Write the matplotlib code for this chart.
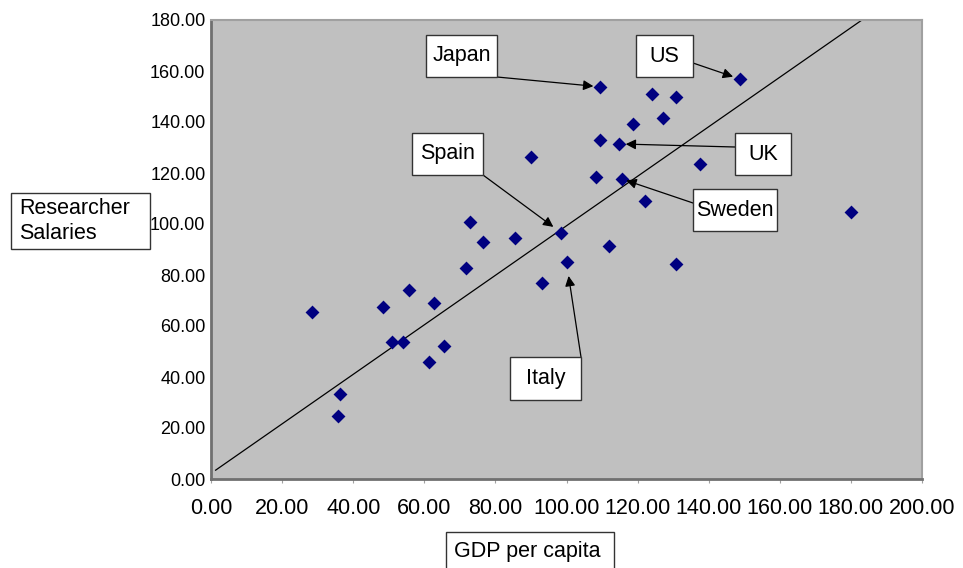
import matplotlib
matplotlib.use("Agg")
import matplotlib.pyplot as plt
from matplotlib.patches import Rectangle
from matplotlib.ticker import FormatStrFormatter, MultipleLocator

plt.rcParams["font.family"] = ["Liberation Sans", "DejaVu Sans"]

# countries called out on the chart
named = ["Japan", "US", "UK", "Sweden", "Spain", "Italy"]
named_gdp = [109.5, 148.7, 114.7, 115.7, 98.5, 100.0]
named_salary = [153.8, 156.9, 131.4, 117.6, 96.6, 85.0]

# remaining countries
other_gdp = [28.3, 48.3, 55.6, 62.8, 50.9, 54.1, 65.5, 61.3, 36.2, 35.6,
             72.9, 71.8, 76.5, 85.4, 93.2, 90.1, 109.4, 124.1, 130.9, 127.1,
             118.8, 137.6, 108.4, 122.0, 180.1, 112.0, 130.9]
other_salary = [65.4, 67.6, 74.1, 69.0, 53.7, 53.7, 52.3, 45.9, 33.5, 24.7,
                100.9, 82.9, 92.8, 94.4, 77.0, 126.4, 132.9, 151.0, 149.7, 141.6,
                139.3, 123.5, 118.4, 109.0, 104.6, 91.5, 84.2]

# straight-line fit drawn across the cloud
fit_slope = 0.971
fit_intercept = 2.2
fit_x = [1.3, 183.0]

W, H = 963, 568
fig = plt.figure(figsize=(W / 100, H / 100), dpi=100)
ax = fig.add_axes([211 / W, 1 - 479 / H, 711 / W, 459 / H])
ax.set_facecolor("#c0c0c0")

ax.scatter(other_gdp + named_gdp, other_salary + named_salary,
           marker="D", s=50, color="#000080", linewidths=0, zorder=3)
ax.plot(fit_x, [fit_slope * v + fit_intercept for v in fit_x],
        color="black", lw=0.9, zorder=2)

ax.set_xlim(0, 200)
ax.set_ylim(0, 180)
ax.xaxis.set_major_locator(MultipleLocator(20))
ax.yaxis.set_major_locator(MultipleLocator(20))
ax.xaxis.set_major_formatter(FormatStrFormatter("%.2f"))
ax.yaxis.set_major_formatter(FormatStrFormatter("%.2f"))
ax.tick_params(axis="x", length=3, color="#a0a0a0", pad=11, labelsize=15.5)
ax.tick_params(axis="y", length=0, pad=4, labelsize=13)
for side in ["top", "right"]:
    ax.spines[side].set_color("#a0a0a0")
    ax.spines[side].set_linewidth(1.5)
for side in ["left", "bottom"]:
    ax.spines[side].set_color("#707070")
    ax.spines[side].set_linewidth(2)


def fig_xy(px, py):
    return px / W, 1 - py / H


def box(px0, py0, px1, py1, text, ha="center", tx=None, ty=None):
    x0, y1 = fig_xy(px0, py0)
    x1, y0 = fig_xy(px1, py1)
    fig.add_artist(Rectangle((x0, y0), x1 - x0, y1 - y0, transform=fig.transFigure,
                             facecolor="white", edgecolor="#333333", lw=1, zorder=5))
    xt = (x0 + x1) / 2 if ha == "center" else fig_xy(tx, 0)[0]
    yt = (y0 + y1) / 2 if ty is None else fig_xy(0, ty)[1]
    fig.text(xt, yt, text, ha=ha, va="center", fontsize=15.5, zorder=6)


# callout boxes: name -> (box corners in pixels, arrow start in pixels, arrow shrink)
callouts = {
    "Japan": ((426, 35, 497, 77), (497, 77), 5),
    "US": ((636, 35, 693, 77), (693, 63), 5),
    "UK": ((735, 133, 791, 175), (735, 147), 5),
    "Sweden": ((693, 189, 777, 231), (693, 203), 3),
    "Spain": ((412, 133, 483, 175), (483, 175), 7),
    "Italy": ((510, 357, 581, 400), (581, 357), 10),
}

for name, gx, sy in zip(named, named_gdp, named_salary):
    (bx0, by0, bx1, by1), start, shrink = callouts[name]
    ax.annotate("", xy=(gx, sy), xytext=fig_xy(*start), textcoords="figure fraction",
                arrowprops=dict(arrowstyle="-|>", color="black", lw=0.9,
                                shrinkA=0, shrinkB=shrink, mutation_scale=15),
                zorder=4, annotation_clip=False)
    box(bx0, by0, bx1, by1, name)

# axis titles in their own boxes
box(11, 193, 150, 249, "Researcher\nSalaries", ha="left", tx=19)
box(446, 532, 614, 590, "GDP per capita", ha="left", tx=454, ty=552)

fig.savefig("out.png", dpi=100)
